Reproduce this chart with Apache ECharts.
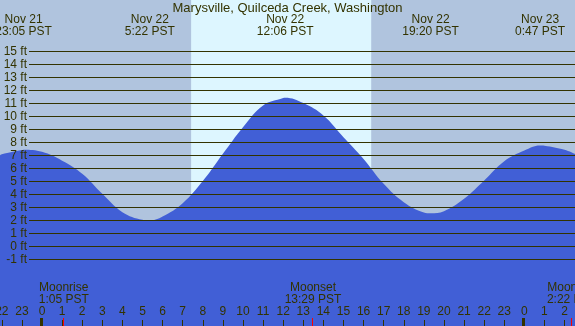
<!DOCTYPE html>
<html>
<head>
<meta charset="utf-8">
<script src="https://cdn.jsdelivr.net/npm/echarts@6/dist/echarts.min.js"></script>
<style>
  html, body { margin: 0; padding: 0; }
  #chart { width: 575px; height: 326px; }
</style>
</head>
<body>
<div id="chart"></div>
<script>
// hours counted from Nov 22 0:00 PST
const tideHours = [-2.09, -2, -1, -0.92, 0, 1, 2, 3, 4, 5, 5.37, 6, 7, 8, 9, 10, 11, 12, 12.1,
  13, 14, 15, 16, 17, 18, 19, 19.33, 20, 21, 22, 23, 24, 24.78, 25, 26, 26.52];
const tideFeet = [7.02, 7.1, 7.42, 7.45, 7.28, 6.6, 5.6, 4.05, 2.64, 2.05, 2.0, 2.3, 3.33, 5.03, 7.13, 9.18, 10.85, 11.42, 11.44,
  11.03, 10.08, 8.41, 6.74, 4.82, 3.41, 2.62, 2.56, 2.72, 3.67, 5.08, 6.56, 7.38, 7.77, 7.75, 7.44, 7.12];

const extremeHours = [-0.917, 5.367, 12.1, 19.333, 24.783];
const extremeDays = ['Nov 21', 'Nov 22', 'Nov 22', 'Nov 22', 'Nov 23'];
const extremeTimes = ['23:05 PST', '5:22 PST', '12:06 PST', '19:20 PST', '0:47 PST'];

const moonHours = [1.083, 13.483, 26.367];
const moonNames = ['Moonrise', 'Moonset', 'Moonrise'];
const moonTimes = ['1:05 PST', '13:29 PST', '2:22 PST'];

const sunrise = 7.42;
const sunset = 16.38;
const midnights = [0, 24];
const hourTicks = [-2, -1, 0, 1, 2, 3, 4, 5, 6, 7, 8, 9, 10, 11, 12, 13, 14, 15, 16, 17, 18, 19, 20, 21, 22, 23, 24, 25, 26];
const feetLevels = [-1, 0, 1, 2, 3, 4, 5, 6, 7, 8, 9, 10, 11, 12, 13, 14, 15];

const title = 'Marysville, Quilceda Creek, Washington';

const ink = '#333300';
const night = '#b0c4de';
const day = '#ddf6ff';
const water = '#415fd6';
const font = 'Liberation Sans';
const fs = 12;

const xMin = -2.09, xMax = 26.52;
const yMin = -6.115, yMax = yMin + 326 / 13;

const chart = echarts.init(document.getElementById('chart'));

// a short mark standing on the bottom edge at hour h
function bottomTick(color, w) {
  return (params, api) => {
    const p = api.coord([api.value(0), yMin]);
    const x = Math.round(p[0]);
    return { type: 'rect', shape: { x: x - Math.ceil(w / 2), y: 318, width: w, height: 8 }, style: { fill: color } };
  };
}

chart.setOption({
  animation: false,
  backgroundColor: night,
  grid: [
    { left: 0, right: 0, top: 0, bottom: 0, containLabel: false, outerBoundsMode: 'none' },
    { left: 29, right: 0, top: 0, bottom: 0, containLabel: false, outerBoundsMode: 'none' }
  ],
  xAxis: [{
    type: 'value', gridIndex: 0, min: xMin, max: xMax, z: 10,
    axisLine: { show: false, onZero: false },
    splitLine: { show: false },
    axisTick: { inside: true, length: 6, customValues: hourTicks, lineStyle: { color: ink, width: 1 } },
    axisLabel: {
      inside: true, margin: 8, customValues: hourTicks, color: ink,
      fontFamily: font, fontSize: fs,
      formatter: v => ((Math.round(v) % 24) + 24) % 24
    }
  }, {
    type: 'value', gridIndex: 1, min: 0, max: 1, show: false,
    axisLine: { onZero: false }
  }],
  yAxis: [{
    type: 'value', gridIndex: 0, min: yMin, max: yMax, show: false,
    axisLine: { onZero: false }
  }, {
    type: 'value', gridIndex: 1, min: yMin, max: yMax, z: 10,
    axisLine: { show: false, onZero: false },
    axisTick: { show: false },
    splitLine: { show: false },
    axisLabel: {
      customValues: feetLevels, margin: 2, color: ink,
      fontFamily: font, fontSize: fs,
      formatter: v => v + ' ft'
    }
  }],
  series: [{
    // daylight band
    type: 'custom', xAxisIndex: 0, yAxisIndex: 0, z: 0, silent: true,
    data: [[sunrise, sunset]],
    renderItem: (params, api) => {
      const a = api.coord([api.value(0), yMax]);
      const b = api.coord([api.value(1), yMin]);
      return { type: 'rect', shape: { x: a[0], y: a[1], width: b[0] - a[0], height: b[1] - a[1] }, style: { fill: day } };
    }
  }, {
    // tide
    type: 'line', xAxisIndex: 0, yAxisIndex: 0, z: 2, silent: true,
    data: tideHours.map((h, i) => [h, tideFeet[i]]),
    smooth: 0.4, symbol: 'none',
    lineStyle: { width: 0 },
    areaStyle: { color: water, opacity: 1, origin: 'start' }
  }, {
    // grid lines
    type: 'line', xAxisIndex: 1, yAxisIndex: 1, z: 3, silent: true,
    data: [],
    markLine: {
      symbol: 'none', silent: true, animation: false,
      label: { show: false },
      lineStyle: { color: ink, width: 1, type: 'solid' },
      data: feetLevels.map(v => ({ yAxis: v }))
    }
  }, {
    // midnight ticks
    type: 'custom', xAxisIndex: 0, yAxisIndex: 0, z: 11, silent: true, clip: false,
    encode: { x: 0, y: 1 },
    data: midnights.map(h => [h, 0]),
    renderItem: bottomTick(ink, 3)
  }, {
    // moon event ticks
    type: 'custom', xAxisIndex: 0, yAxisIndex: 0, z: 11, silent: true, clip: false,
    encode: { x: 0, y: 1 },
    data: moonHours.map(h => [h, 0]),
    renderItem: bottomTick('#ff0000', 1)
  }, {
    // high / low labels
    type: 'custom', xAxisIndex: 0, yAxisIndex: 0, z: 5, silent: true, clip: false,
    encode: { x: 0, y: 1 },
    data: extremeHours.map((h, i) => [h, i]),
    renderItem: (params, api) => {
      const x = api.coord([api.value(0), 0])[0];
      const i = api.value(1);
      const st = { fill: ink, font: fs + 'px "' + font + '"', align: 'center', verticalAlign: 'middle' };
      return { type: 'group', children: [
        { type: 'text', x: x, y: 20, style: Object.assign({ text: extremeDays[i] }, st) },
        { type: 'text', x: x, y: 32, style: Object.assign({ text: extremeTimes[i] }, st) }
      ] };
    }
  }, {
    // moon labels
    type: 'custom', xAxisIndex: 0, yAxisIndex: 0, z: 5, silent: true, clip: false,
    encode: { x: 0, y: 1 },
    data: moonHours.map((h, i) => [h, i]),
    renderItem: (params, api) => {
      const x = api.coord([api.value(0), 0])[0];
      const i = api.value(1);
      const st = { fill: ink, font: fs + 'px "' + font + '"', align: 'center', verticalAlign: 'middle' };
      return { type: 'group', children: [
        { type: 'text', x: x, y: 288, style: Object.assign({ text: moonNames[i] }, st) },
        { type: 'text', x: x, y: 300, style: Object.assign({ text: moonTimes[i] }, st) }
      ] };
    }
  }],
  graphic: [{
    type: 'text', left: 'center', top: 2, z: 10,
    style: { text: title, fill: ink, font: '13px "' + font + '"' }
  }]
});
</script>
</body>
</html>
